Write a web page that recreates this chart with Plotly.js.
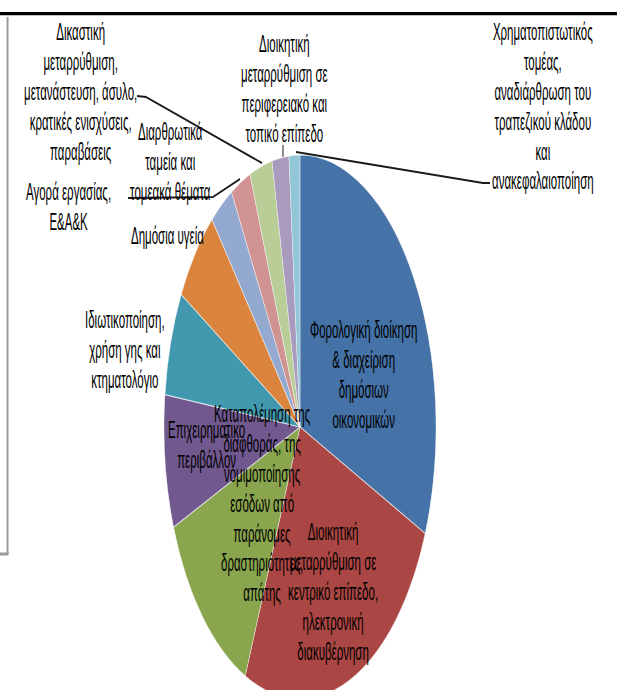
<!DOCTYPE html>
<html>
<head>
<meta charset="utf-8">
<script src="https://cdn.plot.ly/plotly-3.0.1.min.js"></script>
<style>
  html, body { margin: 0; padding: 0; background: #ffffff; }
  #wrap { width: 617px; height: 690px; overflow: hidden; position: relative; background: #fff; }
  #chart { width: 617px; height: 360px; transform: scaleY(2); transform-origin: 0 0; }
</style>
</head>
<body>
<div id="wrap"><div id="chart"></div></div>
<script>
// ---- data ----
const categories = [
  "Φορολογική διοίκηση & διαχείριση δημόσιων οικονομικών",
  "Διοικητική μεταρρύθμιση σε κεντρικό επίπεδο, ηλεκτρονική διακυβέρνηση",
  "Καταπολέμηση της διαφθοράς, της νομιμοποίησης εσόδων από παράνομες δραστηριότητες, απάτης",
  "Επιχειρηματικο περιβάλλον",
  "Ιδιωτικοποίηση, χρήση γης και κτηματολόγιο",
  "Δημόσια υγεία",
  "Αγορά εργασίας, Ε&Α&Κ",
  "Διαρθρωτικά ταμεία και τομεακά θέματα",
  "Δικαστική μεταρρύθμιση, μετανάστευση, άσυλο, κρατικές ενισχύσεις, παραβάσεις",
  "Διοικητική μεταρρύθμιση σε περιφερειακό και τοπικό επίπεδο",
  "Χρηματοπιστωτικός τομέας, αναδιάρθρωση του τραπεζικού κλάδου και ανακεφαλαιοποίηση"
];
const values = [31.4, 25.2, 12.4, 7.9, 6.2, 5.7, 2.8, 2.4, 2.7, 2.0, 1.3];
const labelLines = [
  ["Φορολογική διοίκηση", "& διαχείριση", "δημόσιων", "οικονομικών"],
  ["Διοικητική", "μεταρρύθμιση σε", "κεντρικό επίπεδο,", "ηλεκτρονική", "διακυβέρνηση"],
  ["Καταπολέμηση της", "διαφθοράς, της", "νομιμοποίησης", "εσόδων από", "παράνομες", "δραστηριότητες,", "απάτης"],
  ["Επιχειρηματικο", "περιβάλλον"],
  ["Ιδιωτικοποίηση,", "χρήση γης και", "κτηματολόγιο"],
  ["Δημόσια υγεία"],
  ["Αγορά εργασίας,", "Ε&Α&Κ"],
  ["Διαρθρωτικά", "ταμεία και", "τομεακά θέματα"],
  ["Δικαστική", "μεταρρύθμιση,", "μετανάστευση, άσυλο,", "κρατικές ενισχύσεις,", "παραβάσεις"],
  ["Διοικητική", "μεταρρύθμιση σε", "περιφερειακό και", "τοπικό επίπεδο"],
  ["Χρηματοπιστωτικός", "τομέας,", "αναδιάρθρωση του", "τραπεζικού κλάδου", "και", "ανακεφαλαιοποίηση"]
];

// ---- styling / layout (not data) ----
const colors = ["#4572A7", "#AA4643", "#89A54E", "#71588F", "#4198AF", "#DB843D",
                "#93A9CF", "#D19392", "#B9CD96", "#A99BBD", "#92C5D6"];
const W = 617, H = 360;
const px = x => x / W;
const py = y => 1 - y / H;
// label centres (unscaled px)
const labelPos = [
  [363, 187.5], [333, 296], [262, 252.5], [206, 222.5], [125, 174.5], [168, 118.5],
  [68, 103.5], [170, 80.75], [80, 45.75], [284, 44], [543, 53.25]
];
const FONT = { family: "Liberation Sans, Arial, sans-serif", size: 11.5, color: "#000000" };

const annotations = labelLines.map((lines, i) => ({
  xref: "paper", yref: "paper",
  x: px(labelPos[i][0]), y: py(labelPos[i][1]),
  xanchor: "center", yanchor: "middle", align: "center",
  text: lines.join("<br>"), showarrow: false, font: FONT
}));

function path(points) {
  return points.map((p, k) => (k ? "L" : "M") + px(p[0]) + "," + py(p[1])).join(" ");
}
const leaderStyle = { color: "#1a1a1a", width: 1 };
const shapes = [
  // frame
  { type: "line", xref: "paper", yref: "paper", x0: 0, x1: 1, y0: py(6.8), y1: py(6.8), line: { color: "#000", width: 1.6 } },
  { type: "line", xref: "paper", yref: "paper", x0: px(7.5), x1: px(7.5), y0: py(8.5), y1: py(277), line: { color: "#9a9a9a", width: 2 } },
  { type: "line", xref: "paper", yref: "paper", x0: 0, x1: px(8.5), y0: py(277), y1: py(277), line: { color: "#9a9a9a", width: 1.5 } },
  // leader lines
  { type: "path", xref: "paper", yref: "paper", path: path([[137, 48], [146, 48.5], [262, 81.5]]), line: leaderStyle },
  { type: "path", xref: "paper", yref: "paper", path: path([[128, 99], [213, 98.5], [240, 89.5]]), line: leaderStyle },
  { type: "path", xref: "paper", yref: "paper", path: path([[283, 72.5], [283, 78.5]]), line: leaderStyle },
  { type: "path", xref: "paper", yref: "paper", path: path([[296, 76], [483, 91.5], [490, 91.5]]), line: leaderStyle }
];

const trace = {
  type: "pie",
  labels: categories,
  values: values,
  sort: false,
  direction: "clockwise",
  rotation: 0,
  textinfo: "none",
  hoverinfo: "none",
  marker: { colors: colors, line: { color: "rgba(255,255,255,0.6)", width: 0.6 } },
  domain: { x: [164 / W, 436 / W], y: [(146.5 - 136) / H, (146.5 + 136) / H] }
};

const layout = {
  width: W, height: H,
  margin: { l: 0, r: 0, t: 0, b: 0 },
  paper_bgcolor: "#ffffff",
  showlegend: false,
  annotations: annotations,
  shapes: shapes,
  font: FONT
};

Plotly.newPlot("chart", [trace], layout, { staticPlot: true, displayModeBar: false });
</script>
</body>
</html>
